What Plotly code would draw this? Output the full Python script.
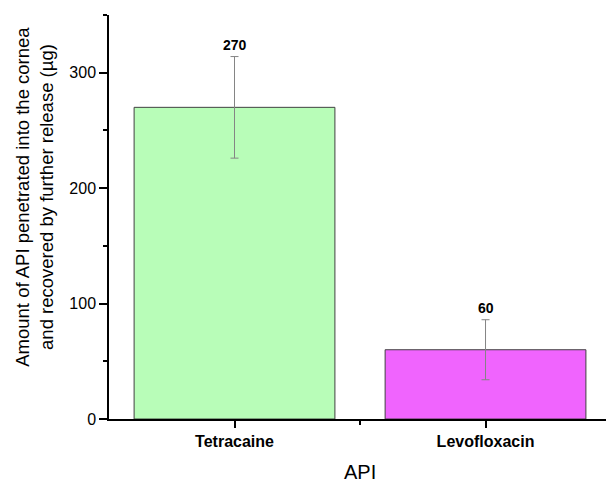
import plotly.graph_objects as go

# API amounts recovered from the cornea (µg), mean ± deviation
apis = ["Tetracaine", "Levofloxacin"]
amounts = [270, 60]
errors_plus = [44, 26]
errors_minus = [44, 26]
bar_colors = ["#b8fdb8", "#f064fe"]

y_major = [0, 100, 200, 300]
y_minor = [50, 150, 250, 350]

FONT = "Arial, Liberation Sans, sans-serif"
positions = list(range(len(apis)))

fig = go.Figure()
fig.add_trace(go.Bar(
    x=positions,
    y=amounts,
    width=0.8,
    marker=dict(color=bar_colors, line=dict(color="#404040", width=1)),
    error_y=dict(type="data", symmetric=False, array=errors_plus,
                 arrayminus=errors_minus, color="#858585",
                 thickness=1, width=4),
    showlegend=False,
))

# value labels above the error bars
for xi, v, e in zip(positions, amounts, errors_plus):
    fig.add_annotation(x=xi, y=v + e, text=f"<b>{v}</b>", showarrow=False,
                       yanchor="bottom", yshift=2,
                       font=dict(family=FONT, size=14, color="black"))

fig.add_annotation(xref="paper", yref="paper", x=-0.149, y=0.55,
                   text="Amount of API penetrated into the cornea<br>and recovered by further release (µg)",
                   textangle=-90, showarrow=False, xanchor="center", yanchor="middle",
                   font=dict(family=FONT, size=18.5, color="black"))
fig.add_annotation(xref="paper", yref="paper", x=0.505, y=-0.131,
                   text="API", showarrow=False, xanchor="center", yanchor="middle",
                   font=dict(family=FONT, size=20, color="black"))

fig.update_layout(
    width=606, height=482,
    margin=dict(l=109, r=0, t=15, b=63),
    plot_bgcolor="white", paper_bgcolor="white",
    font=dict(family=FONT, color="black"),
)
fig.update_xaxes(
    range=[-0.5, 1.48], tickvals=positions,
    ticktext=[f"<b>{a}</b>" for a in apis],
    tickfont=dict(family=FONT, size=16, color="black"),
    showline=True, linecolor="black", linewidth=1.5,
    ticks="outside", ticklen=7, tickwidth=1.5, tickcolor="black",
    minor=dict(tickvals=[0.5], ticks="outside", ticklen=4, tickwidth=1.5, tickcolor="black"),
    showgrid=False, zeroline=False,
)
fig.update_yaxes(
    range=[0, 350], tickvals=y_major,
    tickfont=dict(family=FONT, size=16, color="black"),
    showline=True, linecolor="black", linewidth=1.5,
    ticks="outside", ticklen=8, tickwidth=1.5, tickcolor="black",
    minor=dict(tickvals=y_minor, ticks="outside", ticklen=4, tickwidth=1.5, tickcolor="black"),
    showgrid=False, zeroline=False,
)

fig.write_html("out.html")
